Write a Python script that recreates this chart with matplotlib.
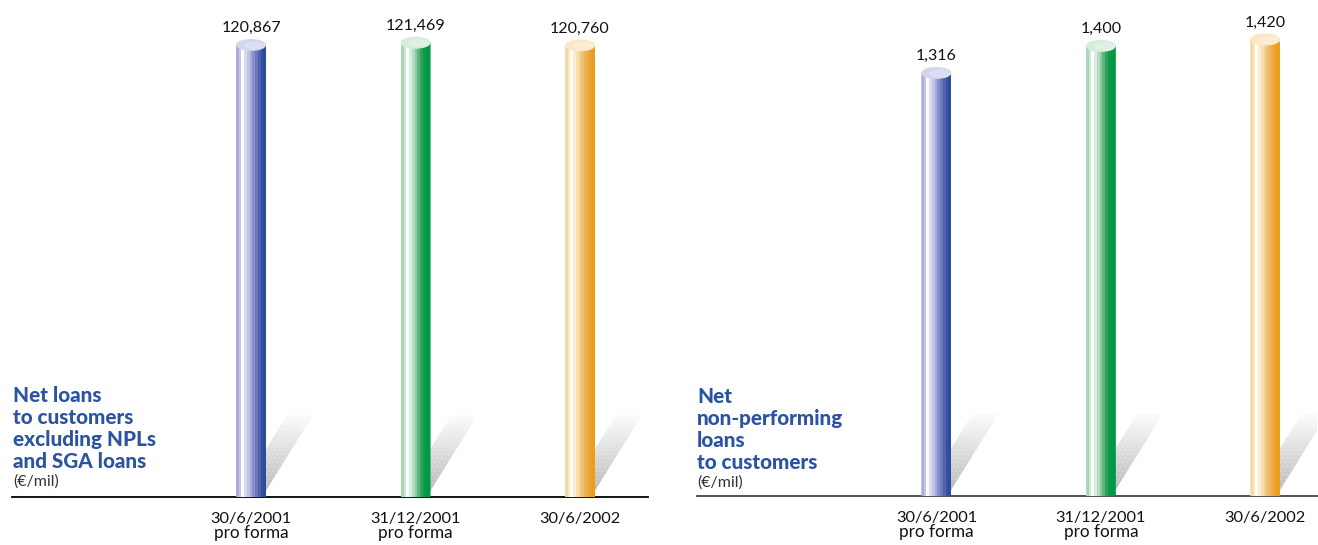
import numpy as np
import matplotlib
matplotlib.use("Agg")
import matplotlib.pyplot as plt
from matplotlib.patches import Ellipse, PathPatch, Polygon
from matplotlib.path import Path
from matplotlib.colors import to_rgb

# ---- data -------------------------------------------------------------
dates = ["30/6/2001", "31/12/2001", "30/6/2002"]
notes = ["pro forma", "pro forma", ""]
net_loans = [120867, 121469, 120760]          # € mil
net_npl = [1316, 1400, 1420]                  # € mil
title_loans = ["Net loans", "to customers", "excluding NPLs", "and SGA loans"]
title_npl = ["Net", "non-performing", "loans", "to customers"]
unit = "(€/mil)"

# ---- styling ----------------------------------------------------------
W, H = 1318, 545
FONT = "Lato"
TITLE_COLOR = "#2a53a2"

bands = {
    "blue": ["#a9acd9", "#c6c8e7", "#ffffff", "#dadaf0", "#c2c4e6", "#a4aadb",
             "#8890c9", "#6c78ba", "#5064ad", "#3452a1", "#2c4d9c"],
    "green": ["#a8d8b8", "#cfe9d7", "#ffffff", "#d8eedf", "#b4dcc0", "#8ccaa2",
              "#5cb47e", "#2ea25c", "#0a9a48", "#009a44", "#009842"],
    "orange": ["#f4d6a4", "#f9e6c4", "#ffffff", "#fbeccf", "#f8deb0", "#f4cf8e",
               "#f0c070", "#eeb256", "#eca63a", "#eaa024", "#e99e20"],
}
caps = {"blue": "#d3d4ee", "green": "#d5ecdc", "orange": "#fce6c3"}
order = ["blue", "green", "orange"]

fig = plt.figure(figsize=(W / 100, H / 100), dpi=100)


def make_axes(left_px, base_px, width_px, top_px, line_color):
    ax = fig.add_axes([left_px / W, (H - base_px) / H, width_px / W, (base_px - top_px) / H])
    for s in ("top", "left", "right"):
        ax.spines[s].set_visible(False)
    ax.spines["bottom"].set_color(line_color)
    ax.spines["bottom"].set_linewidth(1.3)
    ax.set_xticks([])
    ax.set_yticks([])
    ax.patch.set_alpha(0)
    return ax


def px_scale(ax):
    o = ax.transData.transform((0, 0))
    p = ax.transData.transform((1, 1))
    return p[0] - o[0], p[1] - o[1]


def cylinder(ax, x, val, style):
    sx, sy = px_scale(ax)
    w = 30 / sx
    eh = 12 / sy

    # cast shadow behind the column
    sh = np.array([(-15, 0), (11, 0), (62, 82), (36, 82)], dtype=float)
    sh_verts = np.column_stack([x + sh[:, 0] / sx, sh[:, 1] / sy])
    sh_patch = Polygon(sh_verts, closed=True, facecolor="none", edgecolor="none")
    ax.add_patch(sh_patch)
    g = np.linspace(0, 1, 64)
    shade = (0.70 + 0.29 * g ** 0.9)[:, None, None] * np.ones((1, 1, 3))
    im_s = ax.imshow(shade, extent=[x - 15 / sx, x + 62 / sx, 0, 82 / sy],
                     origin="lower", aspect="auto", interpolation="bilinear", zorder=2)
    im_s.set_clip_path(sh_patch)
    hatch = Polygon(sh_verts, closed=True, facecolor="none", edgecolor="#ffffff",
                    hatch="....", linewidth=0, zorder=2.1, alpha=0.22)
    ax.add_patch(hatch)

    # column body with rounded base
    t = np.linspace(np.pi, 2 * np.pi, 60)
    verts = [(x - w / 2, val)]
    verts += list(zip(x + w / 2 * np.cos(t), eh / 2 * np.sin(t)))
    verts += [(x + w / 2, val), (x - w / 2, val)]
    body = PathPatch(Path(verts, closed=True), facecolor="none", edgecolor="none")
    ax.add_patch(body)
    ramp = np.array([to_rgb(c) for c in bands[style]])[None, :, :]
    im = ax.imshow(ramp, extent=[x - w / 2, x + w / 2, -eh / 2, val],
                   aspect="auto", interpolation="nearest", zorder=3)
    im.set_clip_path(body)

    # top cap
    ax.add_patch(Ellipse((x, val), w, eh, facecolor=caps[style],
                         edgecolor="none", zorder=4))
    ax.add_patch(Ellipse((x + w * 0.12, val - eh * 0.05), w * 0.72, eh * 0.7,
                         facecolor="white", edgecolor="none", alpha=0.25, zorder=4.1))


def panel(ax, values, ymax, xlim):
    ax.set_xlim(*xlim)
    ax.set_ylim(0, ymax)
    xs = np.arange(len(values))
    for i, v in enumerate(values):
        cylinder(ax, xs[i], v, order[i])
        ax.annotate(f"{v:,}", xy=(xs[i], v), xytext=(0, 13), textcoords="offset pixels",
                    ha="center", va="baseline", fontsize=11.5, family=FONT, color="#111111")
        ax.annotate(dates[i], xy=(xs[i], 0), xytext=(0, -26), textcoords="offset pixels",
                    ha="center", va="baseline", fontsize=11.8, family=FONT, color="#111111",
                    annotation_clip=False)
        if notes[i]:
            ax.annotate(notes[i], xy=(xs[i], 0), xytext=(0, -41), textcoords="offset pixels",
                        ha="center", va="baseline", fontsize=12.3, family=FONT,
                        color="#111111", annotation_clip=False)
    ax.set_xlim(*xlim)
    ax.set_ylim(0, ymax)


def title(x_px, baselines, lines, unit_base):
    for y, s in zip(baselines, lines):
        fig.text(x_px / W, 1 - y / H, s, ha="left", va="baseline", fontsize=14.9,
                 fontweight="black", family=FONT, color=TITLE_COLOR)
    fig.text(x_px / W, 1 - unit_base / H, unit, ha="left", va="baseline", fontsize=11.5,
             family=FONT, color="#333333")


ax1 = make_axes(12, 497, 636, 0, "#000000")
panel(ax1, net_loans, 132900, (-1.453, 2.413))

ax2 = make_axes(697, 496, 620, 0, "#444444")
panel(ax2, net_npl, 1543, (-1.455, 2.314))

title(13, [402, 424, 446, 468], title_loans, 486)
title(697, [403, 425, 447, 469], title_npl, 487)

fig.savefig("out.png", dpi=100, facecolor="white")
